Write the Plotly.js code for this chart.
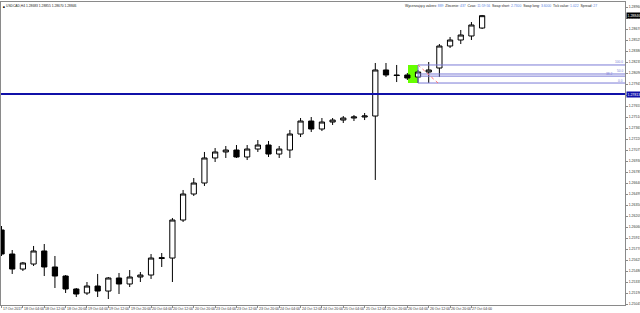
<!DOCTYPE html>
<html><head><meta charset="utf-8">
<script src="https://cdn.plot.ly/plotly-3.0.1.min.js"></script>
<style>html,body{margin:0;padding:0;background:#fff;}#c{width:640px;height:313px;}</style>
</head><body><div id="c"></div>
<script>
// USDCAD H4, 17 Oct 2017 20:00 .. 27 Oct 2017 08:00 (bar index 0..45)
const opens  = [1.26021,1.25704,1.25506,1.25572,1.25744,1.25533,1.25414,1.25243,1.25190,1.25282,
                1.25216,1.25388,1.25309,1.25401,1.25427,1.25645,1.25651,1.26152,1.26495,1.26640,
                1.26970,1.27049,1.27075,1.26983,1.27088,1.27141,1.27022,1.27075,1.27286,1.27457,
                1.27352,1.27444,1.27470,1.27497,1.27510,1.27523,1.28130,1.28064,1.28064,1.28037,
                1.28103,1.28156,1.28446,1.28525,1.28578,1.28683];
const highs  = [1.26073,1.25757,1.25599,1.25810,1.25836,1.25678,1.25427,1.25256,1.25335,1.25441,
                1.25401,1.25454,1.25493,1.25467,1.25704,1.25717,1.26179,1.26548,1.26706,1.27049,
                1.27101,1.27128,1.27141,1.27141,1.27207,1.27194,1.27128,1.27339,1.27497,1.27510,
                1.27497,1.27497,1.27523,1.27536,1.27563,1.28222,1.28222,1.28196,1.28090,1.28130,
                1.28235,1.28472,1.28565,1.28657,1.28762,1.28855];
const lows   = [1.25678,1.25441,1.25480,1.25546,1.25414,1.25256,1.25190,1.25137,1.25164,1.25137,
                1.25111,1.25177,1.25269,1.25335,1.25375,1.25533,1.25335,1.26126,1.26469,1.26601,
                1.26917,1.26970,1.26970,1.26943,1.27049,1.26983,1.26970,1.26970,1.27246,1.27312,
                1.27325,1.27405,1.27431,1.27457,1.27470,1.26680,1.28037,1.27971,1.27998,1.27958,
                1.27958,1.28037,1.28420,1.28472,1.28525,1.28670];
const closes = [1.25704,1.25506,1.25586,1.25744,1.25533,1.25414,1.25243,1.25177,1.25282,1.25216,
                1.25388,1.25309,1.25401,1.25427,1.25651,1.25655,1.26152,1.26495,1.26640,1.26970,
                1.27049,1.27075,1.26983,1.27088,1.27141,1.27022,1.27088,1.27286,1.27457,1.27352,
                1.27444,1.27470,1.27497,1.27510,1.27523,1.28130,1.28064,1.28057,1.28024,1.28103,
                1.28130,1.28446,1.28525,1.28591,1.28723,1.28846];

const tickIdx    = [0,2,4,6,8,10,12,14,16,18,20,22,24,26,28,30,32,34,36,38,40,42,44];
const tickLabels = ["17 Oct 2017","18 Oct 04:00","18 Oct 12:00","18 Oct 20:00","19 Oct 04:00",
                    "19 Oct 12:00","19 Oct 20:00","20 Oct 04:00","20 Oct 12:00","20 Oct 20:00",
                    "23 Oct 04:00","23 Oct 12:00","23 Oct 20:00","24 Oct 04:00","24 Oct 12:00",
                    "24 Oct 20:00","25 Oct 04:00","25 Oct 12:00","25 Oct 20:00","26 Oct 04:00",
                    "26 Oct 12:00","26 Oct 20:00","27 Oct 04:00"];

const hLinePrice   = [1.27813];                 // blue horizontal level
const fibAnchorX   = [39.0, 40.87];             // bar positions of fibo anchors
const fibAnchorP   = [1.28196, 1.27958];        // 100.0 and 0.0 prices
const fibLevels    = [0, 38.2, 50, 100];
const greenBoxX    = [38.06, 39.0];
const greenBoxP    = [1.27958, 1.28196];

const infoLabels = ["Wycenzający zakres:","Zlecenie:","Czas:","Swap short:","Swap long:","Tick value:","Spread:"];
const infoValues = ["889","437","11:59:56","2.7300","3.6000","1.022","27"];

const FONT = "Liberation Sans, Arial, sans-serif";
const FS = 3.5;
const xIdx = closes.map((_, i) => i);
const xRange = [-0.05, 58.38];
const yRange = [1.25032, 1.29026];
const last = closes.length - 1;

const trace = {
  type: 'candlestick', x: xIdx, open: opens, high: highs, low: lows, close: closes,
  increasing: {line: {color: '#000', width: 1}, fillcolor: '#ffffff'},
  decreasing: {line: {color: '#000', width: 1}, fillcolor: '#000000'},
  whiskerwidth: 0, hoverinfo: 'skip'
};

const fibColor = '#7b7bd6';
const shapes = [];
shapes.push({type:'rect', xref:'x', yref:'y', x0:greenBoxX[0], x1:greenBoxX[1], y0:greenBoxP[0], y1:greenBoxP[1],
  fillcolor:'#66ff00', line:{width:0}, layer:'below'});
const fr = fibAnchorP[0] - fibAnchorP[1];
fibLevels.forEach(l => {
  const p = fibAnchorP[1] + fr * l / 100;
  shapes.push({type:'line', xref:'x', yref:'y', x0:fibAnchorX[0], x1:xRange[1], y0:p, y1:p,
    line:{color:fibColor, width:1}});
});
shapes.push({type:'line', xref:'x', yref:'y', x0:fibAnchorX[0], x1:fibAnchorX[0], y0:fibAnchorP[0], y1:fibAnchorP[1],
  line:{color:fibColor, width:1}});
shapes.push({type:'line', xref:'x', yref:'y', x0:fibAnchorX[0], x1:fibAnchorX[1], y0:fibAnchorP[0], y1:fibAnchorP[1],
  line:{color:'#ff7070', width:1, dash:'dot'}});
shapes.push({type:'line', xref:'paper', yref:'y', x0:0, x1:1, y0:hLinePrice[0], y1:hLinePrice[0],
  line:{color:'#1010a8', width:2}});

const annotations = [];
fibLevels.forEach(l => {
  const p = fibAnchorP[1] + fr * l / 100;
  const mid = (l === 38.2);
  annotations.push({xref:'paper', yref:'y', x:1, y:p, xanchor:'right', yanchor:'bottom',
    xshift: mid ? -12 : -1, yshift: -0.5,
    text: l.toFixed(1), showarrow:false, borderpad:0, font:{family:FONT, size:3.2, color:fibColor}});
});
tickIdx.forEach((t, i) => {
  annotations.push({xref:'x', yref:'paper', x:t, y:0, xanchor:'left', yanchor:'top', xshift:0, yshift:-1,
    text: tickLabels[i], showarrow:false, borderpad:0, font:{family:FONT, size:FS, color:'#333'}});
});
annotations.push({xref:'paper', yref:'y', x:1, y:closes[last], xanchor:'left', yanchor:'middle', xshift:1,
  text: closes[last].toFixed(5), showarrow:false, bgcolor:'#000', borderpad:0.5,
  font:{family:FONT, size:FS, color:'#fff'}});
annotations.push({xref:'paper', yref:'y', x:1, y:hLinePrice[0], xanchor:'left', yanchor:'middle', xshift:1,
  text: hLinePrice[0].toFixed(5), showarrow:false, bgcolor:'#1010a8', borderpad:0.5,
  font:{family:FONT, size:FS, color:'#fff'}});
annotations.push({xref:'paper', yref:'paper', x:0, y:1, xanchor:'left', yanchor:'top', xshift:4, yshift:-1,
  text: 'USDCAD,H4 ' + [opens[last], highs[last], lows[last], closes[last]].map(v => v.toFixed(5)).join(' '),
  showarrow:false, borderpad:0, font:{family:FONT, size:3.3, color:'#222'}});
annotations.push({xref:'paper', yref:'paper', x:0, y:1, xanchor:'left', yanchor:'top', xshift:1, yshift:-2,
  text: '■', showarrow:false, borderpad:0, font:{family:FONT, size:3.3, color:'#000'}});
annotations.push({xref:'paper', yref:'paper', x:1, y:1, xanchor:'right', yanchor:'top', xshift:-27, yshift:-1,
  text: infoLabels.map((s, i) => s + ' <span style="color:#5a7fe0">' + infoValues[i] + '</span>').join('  '),
  showarrow:false, borderpad:0, font:{family:FONT, size:3.4, color:'#222'}});

const layout = {
  width: 640, height: 313,
  margin: {l: 1, r: 15, t: 2, b: 8},
  paper_bgcolor: '#fff', plot_bgcolor: '#fff', showlegend: false,
  xaxis: {range: xRange, rangeslider: {visible: false}, showgrid: false, zeroline: false,
    showline: true, mirror: true, linecolor: '#8a8a8a', linewidth: 1,
    tickmode: 'array', tickvals: tickIdx, ticks: 'outside', ticklen: 2, tickcolor: '#8a8a8a',
    showticklabels: false, fixedrange: true},
  yaxis: {range: yRange, side: 'right', showgrid: false, zeroline: false,
    showline: true, mirror: true, linecolor: '#8a8a8a', linewidth: 1,
    tickmode: 'linear', tick0: 1.28960, dtick: 0.00145, tickformat: '.5f',
    ticks: 'outside', ticklen: 2, tickcolor: '#8a8a8a', ticklabelstandoff: 0,
    tickfont: {family: FONT, size: FS, color: '#333'}, fixedrange: true},
  shapes: shapes, annotations: annotations
};

Plotly.newPlot('c', [trace], layout, {staticPlot: true, displayModeBar: false});
</script>
</body></html>
